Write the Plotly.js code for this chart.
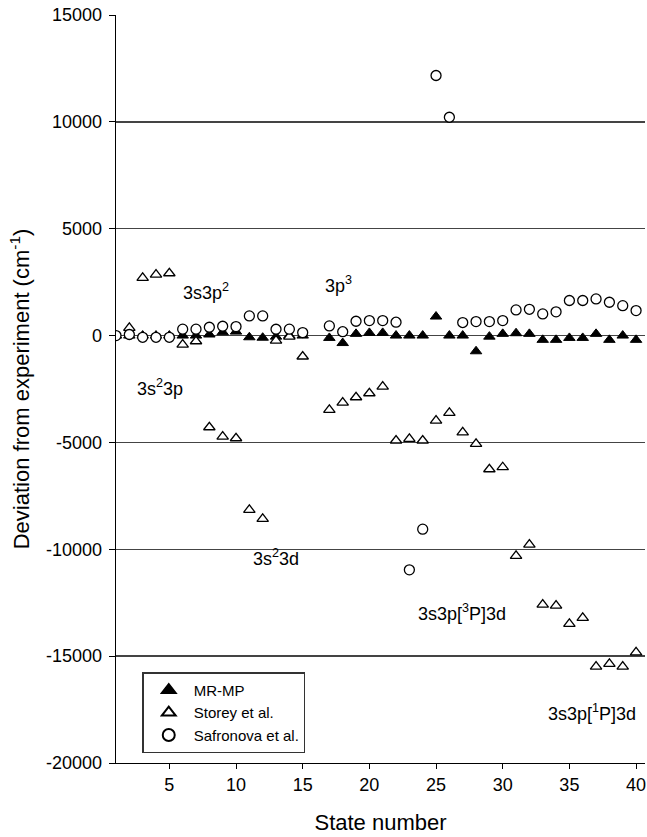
<!DOCTYPE html>
<html>
<head>
<meta charset="utf-8">
<script src="https://cdn.plot.ly/plotly-3.0.1.min.js"></script>
<style>html,body{margin:0;padding:0;background:#fff;}#chart{width:647px;height:837px;}</style>
</head>
<body>
<div id="chart"></div>
<script>
// State numbers (state 16 has no data)
const stateNumber = [1,2,3,4,5,6,7,8,9,10,11,12,13,14,15,16,17,18,19,20,21,22,23,24,25,26,27,28,29,30,31,32,33,34,35,36,37,38,39,40];

// Deviation from experiment (cm^-1)
const mrmp = [0,0,0,0,0,0,0,50,155,185,-80,-100,-50,0,0,null,-110,-350,80,125,125,0,0,0,890,0,0,-735,-50,80,110,80,-200,-200,-110,-110,80,-200,0,-200];
const storey = [null,360,2700,2855,2915,-420,-265,-4290,-4725,-4805,-8155,-8580,-235,-50,-980,null,-3480,-3135,-2885,-2700,-2390,-4910,-4835,-4910,-3980,-3620,-4525,-5070,-6255,-6160,-10310,-9780,-12590,-12635,-13490,-13210,-15490,-15365,-15490,-14820];
const safronova = [0,50,-80,-80,-80,300,300,390,435,420,920,920,295,300,140,null,450,180,670,700,700,625,-10960,-9060,12170,10215,610,655,655,700,1200,1230,1015,1110,1640,1640,1715,1560,1400,1170];

const seriesNames = ["MR-MP", "Storey et al.", "Safronova et al."];

const xTicks = [5,10,15,20,25,30,35,40];
const yTicks = [-20000,-15000,-10000,-5000,0,5000,10000,15000];

// Configuration labels
const configLabels = ["3s3p<sup>2</sup>", "3s<sup>2</sup>3p", "3p<sup>3</sup>", "3s<sup>2</sup>3d", "3s3p[<sup>3</sup>P]3d", "3s3p[<sup>1</sup>P]3d"];
const configX = [7.75, 4.3, 17.7, 13.03, 26.93, 36.69];
const configY = [2050, -2450, 2400, -10400, -12950, -17630];

const FONT = "Liberation Sans, Arial, Helvetica, sans-serif";

const traces = [
  {
    x: stateNumber, y: mrmp, name: seriesNames[0], type: "scatter", mode: "markers",
    marker: {symbol: "triangle-up", size: 10, color: "#000", line: {color: "#000", width: 1}}
  },
  {
    x: stateNumber, y: storey, name: seriesNames[1], type: "scatter", mode: "markers",
    marker: {symbol: "triangle-up", size: 10, color: "#fff", line: {color: "#000", width: 1.3}}
  },
  {
    x: stateNumber, y: safronova, name: seriesNames[2], type: "scatter", mode: "markers",
    marker: {symbol: "circle", size: 10, color: "#fff", line: {color: "#000", width: 1.3}}
  }
];

const annotations = configLabels.map((t, i) => ({
  text: t, x: configX[i], y: configY[i], xref: "x", yref: "y",
  showarrow: false, xanchor: "center", yanchor: "middle",
  font: {family: FONT, size: 18, color: "#000"}
}));

const layout = {
  width: 647, height: 837,
  margin: {l: 116, r: 2, t: 15, b: 74, pad: 0},
  paper_bgcolor: "#fff", plot_bgcolor: "#fff",
  font: {family: FONT, color: "#000", size: 15},
  showlegend: true,
  legend: {
    x: 0.05, y: 0.121, xanchor: "left", yanchor: "top",
    bgcolor: "#fff", bordercolor: "#333", borderwidth: 1.3,
    font: {family: FONT, size: 15, color: "#000"},
    itemsizing: "constant", itemwidth: 40, tracegroupgap: 0
  },
  xaxis: {
    range: [1, 40.67], tickvals: xTicks, ticktext: xTicks.map(String),
    ticks: "outside", ticklen: 5, tickwidth: 1, tickcolor: "#000",
    showline: true, linecolor: "#000", linewidth: 1.3, mirror: false,
    showgrid: false, zeroline: false,
    tickfont: {family: FONT, size: 18, color: "#000"},
    title: {text: "State number", font: {family: FONT, size: 22, color: "#000"}, standoff: 20},
    automargin: false
  },
  yaxis: {
    range: [-20000, 15000], tickvals: yTicks, ticktext: yTicks.map(String),
    ticks: "outside", ticklen: 6, tickwidth: 1, tickcolor: "#000",
    showline: true, linecolor: "#000", linewidth: 1.3, mirror: false,
    showgrid: true, gridcolor: "#444", gridwidth: 1.3,
    zeroline: true, zerolinecolor: "#444", zerolinewidth: 1.3,
    ticklabelstandoff: 3,
    tickfont: {family: FONT, size: 18, color: "#000"},
    title: {text: "Deviation from experiment (cm<sup>-1</sup>)", font: {family: FONT, size: 22, color: "#000"}, standoff: 10},
    automargin: false
  },
  annotations: annotations
};

Plotly.newPlot("chart", traces, layout, {displayModeBar: false, staticPlot: true});
</script>
</body>
</html>
